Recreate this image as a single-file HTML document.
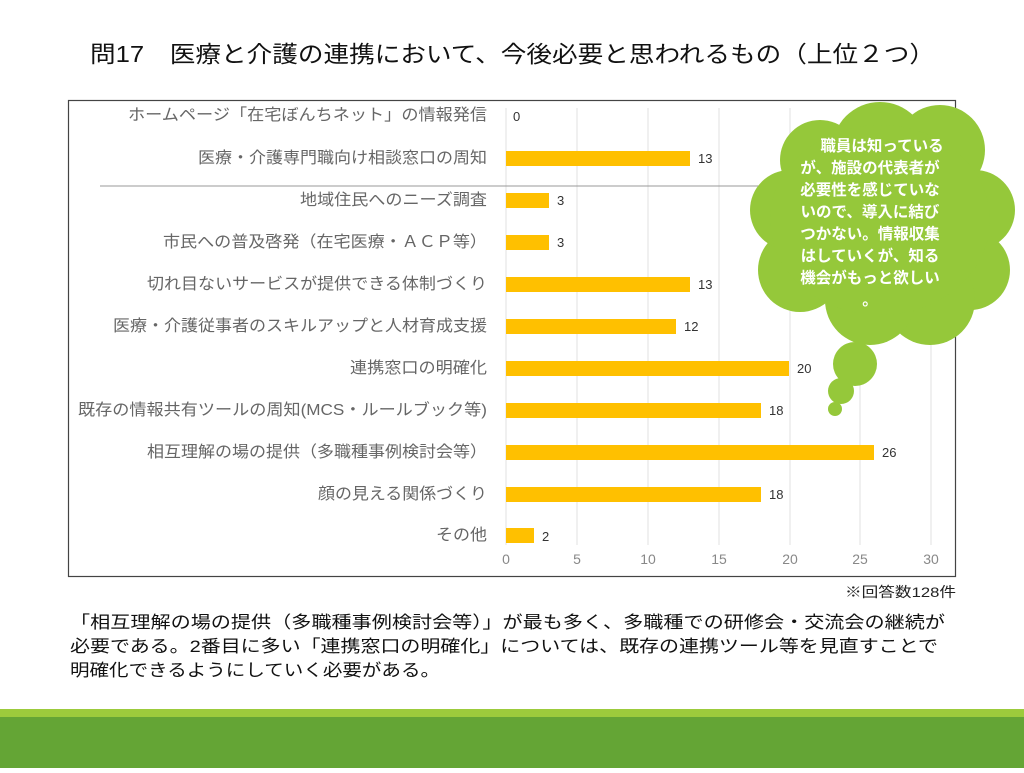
<!DOCTYPE html>
<html><head><meta charset="utf-8"><style>
body{margin:0;width:1024px;height:768px;background:#fff;overflow:hidden;font-family:"Liberation Sans","Noto Sans CJK JP",sans-serif}
</style></head><body>
<svg width="1024" height="768" xmlns="http://www.w3.org/2000/svg" font-family="Liberation Sans, Noto Sans CJK JP, sans-serif">
<text x="90" y="62" font-size="23" fill="#111" textLength="845" lengthAdjust="spacingAndGlyphs">問17　医療と介護の連携において、今後必要と思われるもの（上位２つ）</text>
<rect x="68.5" y="100.5" width="887" height="476" fill="#fff" stroke="#444" stroke-width="1.2"/>
<g stroke="#e0e0e0" stroke-width="1">
<line x1="506" y1="108" x2="506" y2="545"/><line x1="577" y1="108" x2="577" y2="545"/><line x1="648" y1="108" x2="648" y2="545"/><line x1="719" y1="108" x2="719" y2="545"/><line x1="790" y1="108" x2="790" y2="545"/><line x1="860" y1="108" x2="860" y2="545"/><line x1="931" y1="108" x2="931" y2="545"/>
</g>
<line x1="100" y1="186" x2="780" y2="186" stroke="#999" stroke-width="1"/>
<g font-size="16" fill="#666" lengthAdjust="spacingAndGlyphs">
<text x="128" y="120" textLength="359" lengthAdjust="spacingAndGlyphs">ホームページ「在宅ぼんちネット」の情報発信</text>
<text x="198" y="163" textLength="289" lengthAdjust="spacingAndGlyphs">医療・介護専門職向け相談窓口の周知</text>
<text x="300" y="205" textLength="187" lengthAdjust="spacingAndGlyphs">地域住民へのニーズ調査</text>
<text x="163" y="247" textLength="324" lengthAdjust="spacingAndGlyphs">市民への普及啓発（在宅医療・ＡＣＰ等）</text>
<text x="147" y="289" textLength="340" lengthAdjust="spacingAndGlyphs">切れ目ないサービスが提供できる体制づくり</text>
<text x="113" y="331" textLength="374" lengthAdjust="spacingAndGlyphs">医療・介護従事者のスキルアップと人材育成支援</text>
<text x="350" y="373" textLength="137" lengthAdjust="spacingAndGlyphs">連携窓口の明確化</text>
<text x="78" y="415" textLength="409" lengthAdjust="spacingAndGlyphs">既存の情報共有ツールの周知(MCS・ルールブック等)</text>
<text x="147" y="457" textLength="340" lengthAdjust="spacingAndGlyphs">相互理解の場の提供（多職種事例検討会等）</text>
<text x="318" y="499" textLength="169" lengthAdjust="spacingAndGlyphs">顔の見える関係づくり</text>
<text x="436" y="540" textLength="51" lengthAdjust="spacingAndGlyphs">その他</text>
</g>
<g fill="#ffc000">
<rect x="506" y="151" width="184" height="15"/>
<rect x="506" y="193" width="43" height="15"/>
<rect x="506" y="235" width="43" height="15"/>
<rect x="506" y="277" width="184" height="15"/>
<rect x="506" y="319" width="170" height="15"/>
<rect x="506" y="361" width="283" height="15"/>
<rect x="506" y="403" width="255" height="15"/>
<rect x="506" y="445" width="368" height="15"/>
<rect x="506" y="487" width="255" height="15"/>
<rect x="506" y="528" width="28" height="15"/>
</g>
<g font-size="13" fill="#333">
<text x="513" y="121">0</text><text x="698" y="163">13</text><text x="557" y="205">3</text><text x="557" y="247">3</text><text x="698" y="289">13</text><text x="684" y="331">12</text><text x="797" y="373">20</text><text x="769" y="415">18</text><text x="882" y="457">26</text><text x="769" y="499">18</text><text x="542" y="541">2</text>
</g>
<g font-size="14" fill="#888" text-anchor="middle">
<text x="506" y="564">0</text><text x="577" y="564">5</text><text x="648" y="564">10</text><text x="719" y="564">15</text><text x="790" y="564">20</text><text x="860" y="564">25</text><text x="931" y="564">30</text>
</g>
<g fill="#95c83a">
<circle cx="880" cy="150" r="48"/><circle cx="940" cy="150" r="45"/><circle cx="975" cy="210" r="40"/><circle cx="970" cy="270" r="40"/><circle cx="930" cy="300" r="45"/><circle cx="870" cy="300" r="45"/><circle cx="800" cy="270" r="42"/><circle cx="790" cy="210" r="40"/><circle cx="820" cy="160" r="40"/><ellipse cx="880" cy="220" rx="110" ry="95"/>
<circle cx="855" cy="364" r="22"/><circle cx="841" cy="391" r="13"/><circle cx="835" cy="409" r="7"/>
</g>
<g font-size="15.5" font-weight="bold" fill="#fff" text-anchor="middle">
<text x="882" y="151">職員は知っている</text>
<text x="870" y="173">が、施設の代表者が</text>
<text x="870" y="195">必要性を感じていな</text>
<text x="870" y="217">いので、導入に結び</text>
<text x="870" y="239">つかない。情報収集</text>
<text x="870" y="261">はしていくが、知る</text>
<text x="870" y="283">機会がもっと欲しい</text>
<text x="870" y="305">。</text>
</g>
<text x="845" y="597" font-size="14" fill="#222" textLength="111" lengthAdjust="spacingAndGlyphs">※回答数128件</text>
<g font-size="17" fill="#111">
<text x="70" y="628" textLength="875" lengthAdjust="spacingAndGlyphs">「相互理解の場の提供（多職種事例検討会等）」が最も多く、多職種での研修会・交流会の継続が</text>
<text x="70" y="652" textLength="868" lengthAdjust="spacingAndGlyphs">必要である。2番目に多い「連携窓口の明確化」については、既存の連携ツール等を見直すことで</text>
<text x="70" y="676" textLength="370" lengthAdjust="spacingAndGlyphs">明確化できるようにしていく必要がある。</text>
</g>
<rect x="0" y="709" width="1024" height="8" fill="#9ccb3c"/>
<rect x="0" y="717" width="1024" height="51" fill="#64a535"/>
</svg>
</body></html>
